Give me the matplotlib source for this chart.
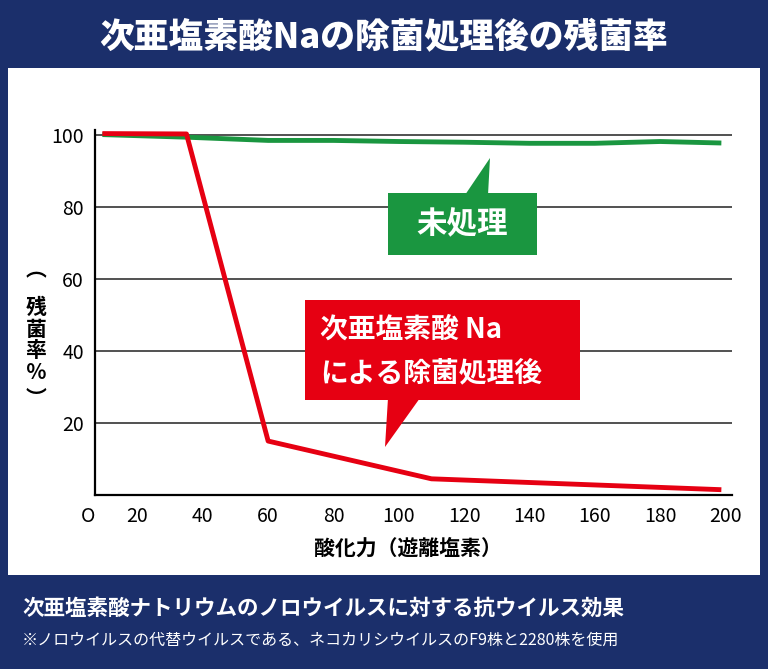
import matplotlib
matplotlib.use("Agg")
import matplotlib.pyplot as plt
from matplotlib.patches import Rectangle, Polygon

plt.rcParams["font.family"] = "Noto Sans CJK JP"

x_untreated = [10, 35, 60, 80, 100, 120, 140, 160, 180, 198]
y_untreated = [100.2, 99.5, 98.6, 98.6, 98.3, 98.1, 97.8, 97.8, 98.3, 97.9]
x_treated = [10, 35, 60, 110, 198]
y_treated = [100.5, 100.4, 15, 4.5, 1.5]
xticks = [20, 40, 60, 80, 100, 120, 140, 160, 180, 200]
yticks = [20, 40, 60, 80, 100]

navy = "#1b2f6b"
green = "#1a9640"
red = "#e60012"

W, H = 768, 669
fig = plt.figure(figsize=(W/100, H/100), dpi=100)
fig.patch.set_facecolor("white")

def fx(px): return px / W
def fy(py): return 1 - py / H

fig.add_artist(Rectangle((0, 0), 1, 1, transform=fig.transFigure, fc=navy, ec="none", zorder=-10))
fig.add_artist(Rectangle((fx(8), fy(575)), fx(760)-fx(8), fy(68)-fy(575),
                         transform=fig.transFigure, fc="white", ec="none", zorder=-9))
fig.text(0.5, fy(38), "次亜塩素酸Naの除菌処理後の残菌率", color="white",
         fontsize=25, fontweight="heavy", ha="center", va="center")
fig.text(fx(22), fy(608), "次亜塩素酸ナトリウムのノロウイルスに対する抗ウイルス効果",
         color="white", fontsize=15.5, fontweight="bold", ha="left", va="center")
fig.text(fx(22), fy(640), "※ノロウイルスの代替ウイルスである、ネコカリシウイルスのF9株と2280株を使用",
         color="white", fontsize=11.5, ha="left", va="center")

ax = fig.add_axes([fx(95), fy(495), fx(732)-fx(95), fy(130)-fy(495)])
ax.set_xlim(7, 202)
ax.set_ylim(0, 101.5)
ax.set_xticks(xticks)
ax.set_yticks(yticks)
ax.tick_params(length=0, labelsize=14, pad=8)
for s in ["top", "right"]:
    ax.spines[s].set_visible(False)
for s in ["left", "bottom"]:
    ax.spines[s].set_linewidth(1.6)
ax.grid(axis="y", color="#333333", lw=1.2)
ax.set_axisbelow(True)
ax.plot(x_untreated, y_untreated, color=green, lw=3.5, zorder=3)
ax.plot(x_treated, y_treated, color=red, lw=3.5, zorder=3)
fig.text(fx(88), fy(516), "O", fontsize=14, ha="center", va="center")
fig.text(fx(408), fy(548), "酸化力（遊離塩素）", fontsize=15, fontweight="bold", ha="center", va="center")
# vertical (upright) y label
fig.text(fx(36), fy(270), "︵", fontsize=15, fontweight="bold", ha="center", va="center")
fig.text(fx(36), fy(340), "残\n菌\n率\n％", fontsize=15, fontweight="bold", ha="center",
         va="center", linespacing=1.05)
fig.text(fx(36), fy(398), "︶", fontsize=15, fontweight="bold", ha="center", va="center")

fig.add_artist(Rectangle((fx(388), fy(255)), fx(537)-fx(388), fy(193)-fy(255),
                         transform=fig.transFigure, fc=green, ec="none", zorder=5))
fig.add_artist(Polygon([(fx(465), fy(195)), (fx(490), fy(158)), (fx(488), fy(195))],
                       transform=fig.transFigure, fc=green, ec="none", zorder=5))
fig.text(fx(462), fy(224), "未処理", color="white", fontsize=22, fontweight="bold",
         ha="center", va="center", zorder=6)

fig.add_artist(Rectangle((fx(305), fy(400)), fx(580)-fx(305), fy(300)-fy(400),
                         transform=fig.transFigure, fc=red, ec="none", zorder=5))
fig.add_artist(Polygon([(fx(388), fy(398)), (fx(385), fy(447)), (fx(420), fy(398))],
                       transform=fig.transFigure, fc=red, ec="none", zorder=5))
fig.text(fx(320), fy(330), "次亜塩素酸 Na", color="white", fontsize=20, fontweight="bold",
         ha="left", va="center", zorder=6)
fig.text(fx(320), fy(373), "による除菌処理後", color="white", fontsize=20, fontweight="bold",
         ha="left", va="center", zorder=6)

fig.savefig("out.png", dpi=100)
